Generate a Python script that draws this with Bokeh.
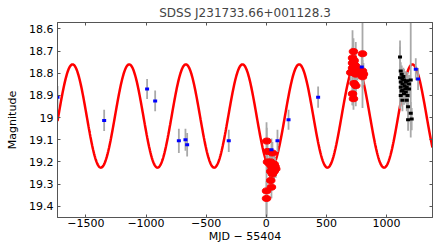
import numpy as np
from bokeh.plotting import figure
from bokeh.models import Range1d, FixedTicker, CustomJSTickFormatter, LinearAxis
from bokeh.embed import file_html
from bokeh.resources import INLINE

TITLE = "SDSS J231733.66+001128.3"
X_LABEL = "MJD \u2212 55404"
Y_LABEL = "Magnitude"
X_TICKS = [-1500, -1000, -500, 0, 500, 1000]
Y_TICKS = [18.6, 18.7, 18.8, 18.9, 19.0, 19.1, 19.2, 19.3, 19.4]
X_LIMITS = (-1736, 1382)
Y_LIMITS = (19.451, 18.571)  # inverted magnitude axis

# sinusoidal model parameters (as fitted in the original figure)
PERIOD = 471.0
T_PEAK = -1611.0
MEAN_MAG = 18.993
AMPLITUDE = 0.233

# blue photometry
blue_t = [-1736, -1348, -991, -924, -727, -672, -658, -312, 43, 93, 185, 431, 794, 1243, 1262]
blue_mag = [18.908, 19.013, 18.871, 18.925, 19.105, 19.100, 19.123, 19.105, 19.145, 19.105,
            19.010, 18.908, 18.772, 18.782, 18.826]
blue_err = [0.05, 0.048, 0.045, 0.047, 0.055, 0.05, 0.053, 0.05, 0.05, 0.05, 0.045, 0.048,
            0.05, 0.05, 0.05]

# red photometry
red_t = [4, 10, 51, 10, 37, 29, 65, 46, 73, 51, 79, 37, 65, 51, 37, 43, 2, 2,
         725, 800, 717, 730, 717, 730, 744, 717, 758, 800, 702, 744, 808, 800, 730, 744, 717, 725]
red_mag = [19.106, 19.153, 19.160, 19.200, 19.200, 19.210, 19.210, 19.221, 19.221, 19.232,
           19.232, 19.243, 19.243, 19.255, 19.284, 19.314, 19.331, 19.365,
           18.702, 18.712, 18.731, 18.743, 18.754, 18.761, 18.768, 18.776, 18.783, 18.790,
           18.797, 18.804, 18.804, 18.816, 18.846, 18.856, 18.893, 18.915]
red_err = [0.06, 0.05, 0.05, 0.05, 0.05, 0.04, 0.04, 0.05, 0.04, 0.04, 0.04, 0.05, 0.04,
           0.05, 0.05, 0.05, 0.31, 0.08,
           0.06, 0.245, 0.05, 0.05, 0.05, 0.05, 0.05, 0.17, 0.05, 0.05, 0.05, 0.145, 0.05,
           0.05, 0.05, 0.05, 0.05, 0.05]

# black photometry
black_t = [1112, 1118, 1126, 1112, 1132, 1145, 1118, 1160, 1174, 1132, 1151, 1187, 1118, 1168,
           1132, 1160, 1187, 1118, 1145, 1174, 1132, 1168, 1179, 1201, 1179, 1209, 1201, 1140,
           1155, 1125]
black_mag = [18.727, 18.790, 18.805, 18.820, 18.827, 18.831, 18.839, 18.841, 18.834, 18.848,
             18.856, 18.848, 18.863, 18.863, 18.878, 18.885, 18.871, 18.900, 18.892, 18.900,
             18.922, 18.922, 18.951, 18.980, 19.010, 19.007, 18.830, 18.815, 18.870, 18.880]
black_err = [0.075, 0.04, 0.04, 0.14, 0.04, 0.05, 0.04, 0.05, 0.04, 0.04, 0.05, 0.04, 0.04,
             0.05, 0.04, 0.05, 0.04, 0.04, 0.05, 0.05, 0.05, 0.05, 0.06, 0.05, 0.05, 0.05,
             0.26, 0.04, 0.04, 0.04]

FONT = "DejaVu Sans"
AXIS_COLOR = "#555555"
ERR_COLOR = "#a9a9a9"

p = figure(width=436, height=245, output_backend="svg", toolbar_location=None,
           x_range=Range1d(*X_LIMITS), y_range=Range1d(*Y_LIMITS),
           min_border_left=57, min_border_right=4, min_border_top=20, min_border_bottom=25)

p.title.text = TITLE
p.title.align = "center"
p.title.text_font = FONT
p.title.text_font_size = "12px"
p.title.text_font_style = "normal"
p.title.standoff = 6
p.title.offset = 0

p.grid.visible = False
p.outline_line_color = AXIS_COLOR
p.background_fill_color = "white"
p.border_fill_color = "white"

fmt_x = CustomJSTickFormatter(code="return tick < 0 ? '\u2212' + (-tick) : String(tick);")
fmt_y = CustomJSTickFormatter(code="return String(Math.round(tick * 10) / 10);")
blank = CustomJSTickFormatter(code="return '';")

xa = p.xaxis[0]
xa.ticker = FixedTicker(ticks=X_TICKS)
xa.formatter = fmt_x
xa.axis_label = X_LABEL
ya = p.yaxis[0]
ya.ticker = FixedTicker(ticks=Y_TICKS)
ya.formatter = fmt_y
ya.axis_label = Y_LABEL

top = LinearAxis(ticker=FixedTicker(ticks=X_TICKS), formatter=blank)
right = LinearAxis(ticker=FixedTicker(ticks=Y_TICKS), formatter=blank)
p.add_layout(top, "above")
p.add_layout(right, "right")

for ax in (xa, ya, top, right):
    ax.axis_line_color = AXIS_COLOR
    ax.major_tick_line_color = AXIS_COLOR
    ax.major_tick_in = 3
    ax.major_tick_out = 0
    ax.minor_tick_line_color = None
    ax.major_label_text_font = FONT
    ax.major_label_text_font_size = "11px"
    ax.major_label_text_color = "black"
    ax.axis_label_text_font = FONT
    ax.axis_label_text_font_size = "11px"
    ax.axis_label_text_font_style = "normal"
    ax.axis_label_text_color = "black"
for ax in (top, right):
    ax.major_label_text_font_size = "0px"
    ax.major_label_standoff = 0
xa.major_label_standoff = 1
xa.axis_label_standoff = 0
ya.major_label_standoff = 4
ya.axis_label_standoff = 7

# model curve
t_model = np.linspace(X_LIMITS[0], X_LIMITS[1], 800)
m_model = MEAN_MAG - AMPLITUDE * np.cos(2 * np.pi * (t_model - T_PEAK) / PERIOD)
p.line(t_model, m_model, line_color="#ff0000", line_width=2.5)

# error bars
for t, m, e in ((red_t, red_mag, red_err), (black_t, black_mag, black_err), (blue_t, blue_mag, blue_err)):
    t = np.array(t, float); m = np.array(m, float); e = np.array(e, float)
    p.segment(x0=t, y0=m - e, x1=t, y1=m + e, line_color=ERR_COLOR, line_width=1.8)

# markers
p.ellipse(x=red_t, y=red_mag, width=8.5, height=6, width_units="screen", height_units="screen",
          fill_color="#ff0000", line_color="#ff0000")
p.rect(x=black_t, y=black_mag, width=4, height=3, width_units="screen", height_units="screen",
       fill_color="black", line_color=None)
p.rect(x=blue_t, y=blue_mag, width=4, height=3, width_units="screen", height_units="screen",
       fill_color="#0000ff", line_color=None)

open("out.html", "w").write(file_html(p, INLINE))
